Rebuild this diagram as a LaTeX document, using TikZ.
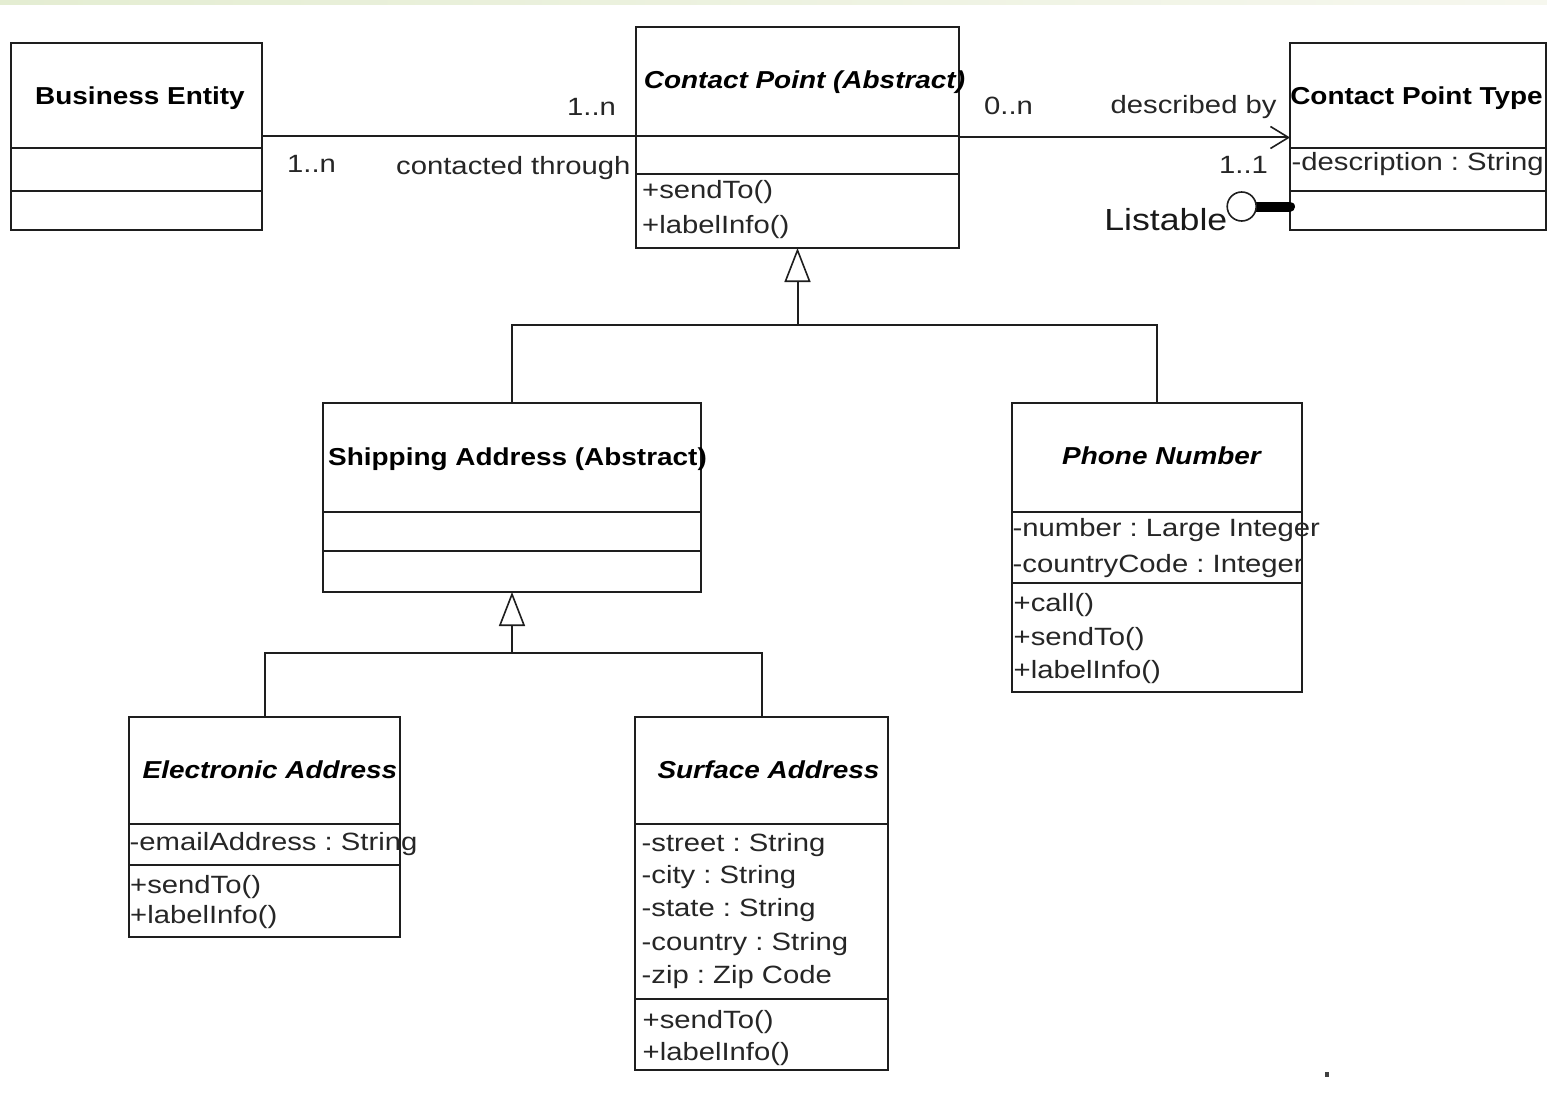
\documentclass[tikz,border=0pt]{standalone}
\usepackage{fontspec}
\setmainfont{Liberation Sans}
\newfontfamily\regfam{Liberation Sans}[FakeStretch=1.17]
\newfontfamily\ttlfam{Liberation Sans}[FakeStretch=1.14]
\usetikzlibrary{arrows.meta,fit}
\frenchspacing

\definecolor{stripL}{RGB}{228,237,210}
\definecolor{stripR}{RGB}{246,247,238}
\definecolor{ink}{RGB}{30,30,30}

\tikzset{
  umlline/.style={draw=ink, line width=2pt},
  classframe/.style={umlline, rectangle, inner sep=0pt, outer sep=0pt},
  member/.style={inner sep=0pt, anchor=base west, text=black!85,
    font=\regfam\fontsize{25}{30}\selectfont},
  rolelabel/.style={member},
  classtitle/.style={inner sep=0pt, anchor=base, text=black,
    font=\ttlfam\fontsize{24.5}{30}\selectfont\bfseries},
  abstracttitle/.style={classtitle,
    font=\ttlfam\fontsize{24.5}{30}\selectfont\bfseries\itshape},
  assoc/.style={umlline},
  inherit/.style={umlline, -{Triangle[open,length=34pt,width=26pt,line width=1.6pt]}},
  navigable/.style={umlline, -{Straight Barb[length=18pt,width=22pt,line width=1.6pt]}},
}

% class box: name, left, top, right, bottom, first divider, second divider
\newcommand\umlclass[7]{%
  \node[classframe, fit={(#2,#3) (#4,#5)}] (#1) {};
  \draw[umlline] (#2,#6) -- (#4,#6) (#2,#7) -- (#4,#7);
}

\begin{document}
\begin{tikzpicture}[x=1pt, y=-1pt]
\useasboundingbox (0,0) rectangle (1547,1097);
\fill[white] (0,0) rectangle (1547,1097);
\shade[left color=stripL, right color=stripR] (0,0) rectangle (1547,5);

% classes
\umlclass{be}{11}{43}{262}{230}{148}{191}
\umlclass{cp}{636}{27}{959}{248}{136}{174}
\umlclass{cpt}{1290}{43}{1546}{230}{148}{191}
\umlclass{sa}{323}{403}{701}{592}{512}{551}
\umlclass{pn}{1012}{403}{1302}{692}{512}{583}
\umlclass{ea}{129}{717}{400}{937}{824}{865}
\umlclass{su}{635}{717}{888}{1070}{824}{999}

% class names
\node[classtitle] (be-t) at (140,104.3) {Business Entity};
\node[abstracttitle] (cp-t) at (804.5,89) {Contact Point (Abstract)};
\node[classtitle] (cpt-t) at (1416.5,104.3) {Contact Point Type};
\node[classtitle] (sa-t) at (517.5,465) {Shipping Address (Abstract)};
\node[abstracttitle] (pn-t) at (1161.5,464) {Phone Number};
\node[abstracttitle] (ea-t) at (270,778) {Electronic Address};
\node[abstracttitle] (su-t) at (768.5,778) {Surface Address};

% members
\node[member] (cp-m1) at (642,198) {+sendTo()};
\node[member] (cp-m2) at (642,233) {+labelInfo()};

\node[member] (cpt-a1) at (1291.5,170.5) {-description : String};

\node[member] (pn-a1) at (1012.5,536.5) {-number : Large Integer};
\node[member] (pn-a2) at (1012.5,572.5) {-countryCode : Integer};
\node[member] (pn-m1) at (1013.5,611) {+call()};
\node[member] (pn-m2) at (1013.5,645) {+sendTo()};
\node[member] (pn-m3) at (1013.5,678) {+labelInfo()};

\node[member] (ea-a1) at (129.5,850) {-emailAddress : String};
\node[member] (ea-m1) at (130,893) {+sendTo()};
\node[member] (ea-m2) at (130,923.5) {+labelInfo()};

\node[member] (su-a1) at (641.5,851.5) {-street : String};
\node[member] (su-a2) at (641.5,883.5) {-city : String};
\node[member] (su-a3) at (641.5,916.5) {-state : String};
\node[member] (su-a4) at (641.5,950) {-country : String};
\node[member] (su-a5) at (641.5,983) {-zip : Zip Code};
\node[member] (su-m1) at (642.5,1028) {+sendTo()};
\node[member] (su-m2) at (642.5,1060) {+labelInfo()};

% associations
\draw[assoc] (be.east) -- (be.east -| cp.west);
\draw[navigable] (cp.east) -- (cp.east -| cpt.west);

\node[rolelabel] (mul1) at (567,116) {1..n};
\node[rolelabel] (mul2) at (287,172.5) {1..n};
\node[rolelabel] (role1) at (396,174) {contacted through};
\node[rolelabel] (mul3) at (984,115) {0..n};
\node[rolelabel] (role2) at (1110.5,113.5) {described by};
\node[rolelabel] (mul4) at (1219,173) {1..1};

% generalizations
\coordinate (j1) at (797.5,325);
\draw[inherit] (j1) -- (cp.south);
\draw[umlline] (sa.north) |- (j1) -| (pn.north);

\coordinate (j2) at (512,653);
\draw[inherit] (j2) -- (sa.south);
\draw[umlline] (ea.north) |- (j2) -| (su.north);

% provided interface
\coordinate (lpc) at (1241.7,206.5);
\draw[line width=10pt, line cap=round, draw=black] (lpc) -- (lpc -| cpt.west);
\node[circle, draw=ink, line width=1.6pt, fill=white, minimum size=29pt, inner sep=0pt] (lp) at (lpc) {};
\node[member, anchor=base east, text=black!90, font=\regfam\fontsize{30.5}{36}\selectfont] (lp-t) at (1227.5,230) {Listable};

% stray mark
\fill[black!75] (1324.5,1072) rectangle (1329,1076.5);
\end{tikzpicture}
\end{document}
